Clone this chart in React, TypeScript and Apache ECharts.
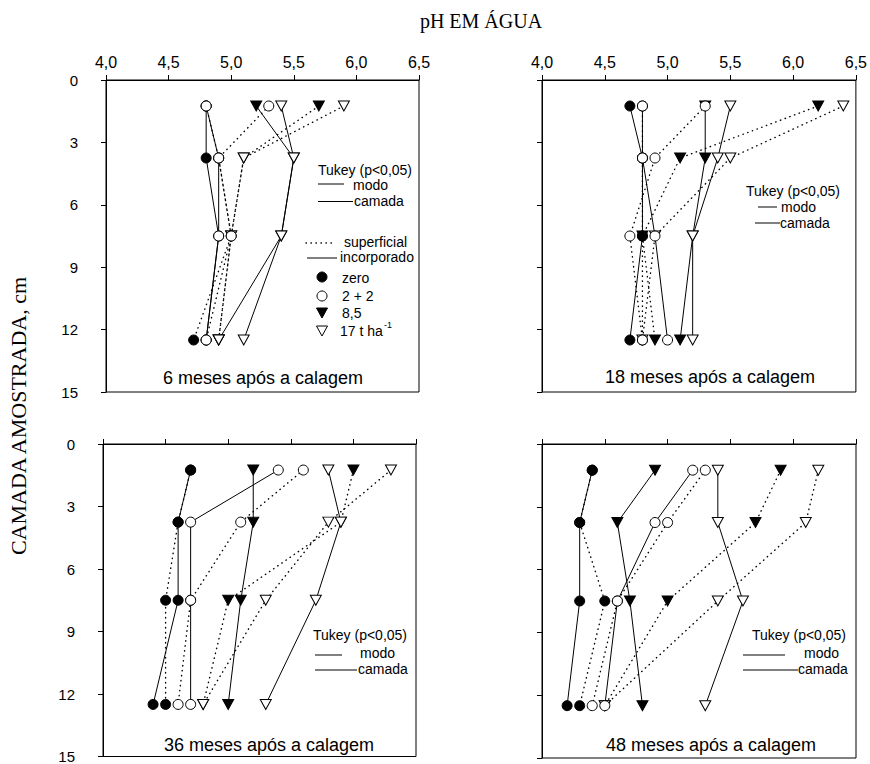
import React, { useEffect, useRef } from "react";
import * as echarts from "echarts";

// depth of each sampled layer (cm)
const depths = [1.25, 3.75, 7.5, 12.5];
const xTicks = [4.0, 4.5, 5.0, 5.5, 6.0, 6.5];
const yTicks = [0, 3, 6, 9, 12, 15];
const panelTitles = [
  "6 meses após a calagem",
  "18 meses após a calagem",
  "36 meses após a calagem",
  "48 meses após a calagem",
];

// 6 meses
const zeroSup6 = [4.8, 4.9, 5.0, 4.7];
const zeroInc6 = [4.8, 4.8, 4.9, 4.8];
const p22Sup6 = [5.3, 4.9, 5.0, 4.8];
const p22Inc6 = [4.8, 4.9, 4.9, 4.8];
const d85Sup6 = [5.7, 5.1, 5.0, 4.9];
const d85Inc6 = [5.2, 5.5, 5.4, 4.9];
const d17Sup6 = [5.9, 5.1, 5.0, 4.9];
const d17Inc6 = [5.4, 5.5, 5.4, 5.1];

// 18 meses
const zeroSup18 = [4.8, 4.8, 4.8, 4.8];
const zeroInc18 = [4.7, 4.8, 4.8, 4.7];
const p22Sup18 = [5.3, 4.9, 4.7, 4.8];
const p22Inc18 = [4.8, 4.8, 4.9, 5.0];
const d85Sup18 = [6.2, 5.1, 4.8, 4.9];
const d85Inc18 = [5.3, 5.3, 5.2, 5.1];
const d17Sup18 = [6.4, 5.5, 4.9, 4.8];
const d17Inc18 = [5.5, 5.4, 5.2, 5.2];

// 36 meses
const zeroSup36 = [4.7, 4.6, 4.5, 4.5];
const zeroInc36 = [4.7, 4.6, 4.6, 4.4];
const p22Sup36 = [5.6, 5.1, 4.7, 4.6];
const p22Inc36 = [5.4, 4.7, 4.7, 4.7];
const d85Sup36 = [6.0, 5.9, 5.0, 4.8];
const d85Inc36 = [5.2, 5.2, 5.1, 5.0];
const d17Sup36 = [6.3, 5.8, 5.3, 4.8];
const d17Inc36 = [5.8, 5.9, 5.7, 5.3];

// 48 meses
const zeroSup48 = [4.4, 4.3, 4.5, 4.3];
const zeroInc48 = [4.4, 4.3, 4.3, 4.2];
const p22Sup48 = [5.3, 5.0, 4.6, 4.4];
const p22Inc48 = [5.2, 4.9, 4.6, 4.5];
const d85Sup48 = [5.9, 5.7, 5.0, 4.5];
const d85Inc48 = [4.9, 4.6, 4.7, 4.8];
const d17Sup48 = [6.2, 6.1, 5.4, 4.5];
const d17Inc48 = [5.4, 5.4, 5.6, 5.3];

const panelData = [
  { zeroSup: zeroSup6, zeroInc: zeroInc6, p22Sup: p22Sup6, p22Inc: p22Inc6, d85Sup: d85Sup6, d85Inc: d85Inc6, d17Sup: d17Sup6, d17Inc: d17Inc6 },
  { zeroSup: zeroSup18, zeroInc: zeroInc18, p22Sup: p22Sup18, p22Inc: p22Inc18, d85Sup: d85Sup18, d85Inc: d85Inc18, d17Sup: d17Sup18, d17Inc: d17Inc18 },
  { zeroSup: zeroSup36, zeroInc: zeroInc36, p22Sup: p22Sup36, p22Inc: p22Inc36, d85Sup: d85Sup36, d85Inc: d85Inc36, d17Sup: d17Sup36, d17Inc: d17Inc36 },
  { zeroSup: zeroSup48, zeroInc: zeroInc48, p22Sup: p22Sup48, p22Inc: p22Inc48, d85Sup: d85Sup48, d85Inc: d85Inc48, d17Sup: d17Sup48, d17Inc: d17Inc48 },
];

const SANS = "'Liberation Sans', Arial, Helvetica, sans-serif";
const SERIF = "'Liberation Serif', 'Times New Roman', serif";
const DOT = [0.4, 4.6];

const grids = [
  { left: 106, top: 80, width: 313, height: 312 },
  { left: 542, top: 80, width: 314, height: 312 },
  { left: 103, top: 444, width: 313, height: 314 },
  { left: 542, top: 444, width: 314, height: 314 },
];

const titlePos = [
  [263, 378],
  [710, 377],
  [269, 745],
  [711, 745],
];

type Key = "zeroSup" | "zeroInc" | "p22Sup" | "p22Inc" | "d85Sup" | "d85Inc" | "d17Sup" | "d17Inc";
const seriesDefs: { key: Key; sym: string; filled: boolean; sup: boolean; z: number }[] = [
  { key: "d85Sup", sym: "triangle", filled: true, sup: true, z: 3 },
  { key: "d85Inc", sym: "triangle", filled: true, sup: false, z: 3 },
  { key: "d17Sup", sym: "triangle", filled: false, sup: true, z: 4 },
  { key: "d17Inc", sym: "triangle", filled: false, sup: false, z: 4 },
  { key: "zeroSup", sym: "circle", filled: true, sup: true, z: 5 },
  { key: "zeroInc", sym: "circle", filled: true, sup: false, z: 5 },
  { key: "p22Sup", sym: "circle", filled: false, sup: true, z: 6 },
  { key: "p22Inc", sym: "circle", filled: false, sup: false, z: 6 },
];

function txt(text: string, x: number, y: number, size: number, align = "left", family = SANS, extra: any = {}) {
  return {
    type: "text",
    x,
    y,
    silent: true,
    z: 10,
    ...extra,
    style: {
      text,
      fontSize: size,
      fontFamily: family,
      fill: "#000",
      align,
      textAlign: align,
      verticalAlign: "middle",
      textVerticalAlign: "middle",
    },
  };
}

function hline(x1: number, x2: number, y: number, dotted?: boolean) {
  return {
    type: "line",
    silent: true,
    z: 10,
    shape: { x1, y1: y, x2, y2: y },
    style: dotted
      ? { stroke: "#000", lineWidth: 1.4, lineDash: DOT, lineCap: "round" }
      : { stroke: "#000", lineWidth: 1 },
  };
}

function tri(cx: number, cy: number, filled: boolean) {
  return {
    type: "polygon",
    silent: true,
    z: 10,
    shape: { points: [[cx - 5.5, cy - 5], [cx + 5.5, cy - 5], [cx, cy + 5]] },
    style: { fill: filled ? "#000" : "#fff", stroke: "#000", lineWidth: 1 },
  };
}

function circ(cx: number, cy: number, filled: boolean) {
  return {
    type: "circle",
    silent: true,
    z: 10,
    shape: { cx, cy, r: 5 },
    style: { fill: filled ? "#000" : "#fff", stroke: "#000", lineWidth: 1 },
  };
}

export default function App() {
  const ref = useRef<HTMLDivElement>(null);

  useEffect(() => {
    if (!ref.current) return;
    const chart = echarts.init(ref.current, undefined, { renderer: "svg" });

    const grid = grids.map((g) => ({
      ...g,
      show: true,
      borderColor: "#000",
      borderWidth: 1,
      backgroundColor: "transparent",
      containLabel: false,
    }));

    const xAxis = grids.map((_, i) => ({
      type: "value",
      gridIndex: i,
      position: "top",
      min: xTicks[0],
      max: xTicks[xTicks.length - 1],
      interval: 0.5,
      axisLine: { show: true, lineStyle: { color: "#000", width: 1 } },
      axisTick: { show: true, inside: false, length: 5, lineStyle: { color: "#000" } },
      splitLine: { show: false },
      axisLabel: {
        show: i < 2,
        margin: 10,
        color: "#000",
        fontSize: 16,
        fontFamily: SANS,
        formatter: (v: number) => v.toFixed(1).replace(".", ","),
      },
    }));

    const yAxis = grids.map((_, i) => ({
      type: "value",
      gridIndex: i,
      inverse: true,
      min: yTicks[0],
      max: yTicks[yTicks.length - 1],
      interval: 3,
      axisLine: { show: true, lineStyle: { color: "#000", width: 1 } },
      axisTick: { show: true, inside: false, length: 5, lineStyle: { color: "#000" } },
      splitLine: { show: false },
      axisLabel: {
        show: i % 2 === 0,
        margin: 28,
        color: "#000",
        fontSize: 15,
        fontFamily: SANS,
      },
    }));

    const series: any[] = [];
    panelData.forEach((pd, i) => {
      seriesDefs.forEach((d) => {
        const data = pd[d.key].map((v, k) => [v, depths[k]]);
        series.push({
          type: "line",
          xAxisIndex: i,
          yAxisIndex: i,
          data,
          showSymbol: false,
          symbol: "none",
          silent: true,
          z: 2,
          lineStyle: {
            color: "#000",
            width: d.sup ? 1.4 : 1,
            type: d.sup ? DOT : "solid",
            cap: d.sup ? "round" : "butt",
          },
        });
        series.push({
          type: "scatter",
          xAxisIndex: i,
          yAxisIndex: i,
          data,
          silent: true,
          z: d.z,
          symbol: d.sym,
          symbolRotate: d.sym === "triangle" ? 180 : 0,
          symbolSize: d.sym === "triangle" ? [11, 10] : 10,
          itemStyle: {
            color: d.filled ? "#000" : "#fff",
            borderColor: "#000",
            borderWidth: 1,
            opacity: 1,
          },
        });
      });
    });

    const graphic: any[] = [];
    // global titles
    graphic.push(txt("pH EM ÁGUA", 481, 21, 20, "center", SERIF));
    graphic.push(txt("CAMADA AMOSTRADA, cm", 18, 416, 22, "center", SERIF, { rotation: Math.PI / 2 }));
    // panel titles
    panelTitles.forEach((t, i) => graphic.push(txt(t, titlePos[i][0], titlePos[i][1], 18, "center")));

    // Tukey blocks
    const tukey = [
      { tx: 318, ty: 170, m: [318, 344, 184], mt: [353, 185], c: [318, 353, 201.5], ct: [354, 201] },
      { tx: 746, ty: 191, m: [758, 777, 207], mt: [781, 207], c: [755, 780, 223], ct: [780, 223] },
      { tx: 313, ty: 635, m: [315, 342, 655], mt: [360, 653], c: [315, 357, 670], ct: [358, 669] },
      { tx: 752, ty: 635, m: [743, 785, 655], mt: [804, 653], c: [743, 798, 670], ct: [798, 669] },
    ];
    tukey.forEach((t) => {
      graphic.push(txt("Tukey (p<0,05)", t.tx, t.ty, 14));
      graphic.push(hline(t.m[0], t.m[1], t.m[2]));
      graphic.push(txt("modo", t.mt[0], t.mt[1], 14));
      graphic.push(hline(t.c[0], t.c[1], t.c[2]));
      graphic.push(txt("camada", t.ct[0], t.ct[1], 14));
    });

    // legend (first panel)
    graphic.push(hline(306, 333, 243, true));
    graphic.push(txt("superficial", 344, 242, 14));
    graphic.push(hline(307, 337, 258));
    graphic.push(txt("incorporado", 340, 257, 14));
    graphic.push(circ(322, 277, true));
    graphic.push(txt("zero", 342, 278, 14));
    graphic.push(circ(322, 296, false));
    graphic.push(txt("2 + 2", 342, 296, 14));
    graphic.push(tri(322, 313, true));
    graphic.push(txt("8,5", 342, 313, 14));
    graphic.push(tri(322, 331, false));
    graphic.push(txt("17 t ha", 340, 331, 14));
    graphic.push(txt("-1", 384, 325, 9));

    chart.setOption({
      animation: false,
      backgroundColor: "#fff",
      grid,
      xAxis,
      yAxis,
      series,
      graphic,
    });

    return () => chart.dispose();
  }, []);

  return (
    <div
      ref={ref}
      style={{ position: "absolute", left: 0, top: 0, width: 870, height: 764, background: "#fff" }}
    />
  );
}
